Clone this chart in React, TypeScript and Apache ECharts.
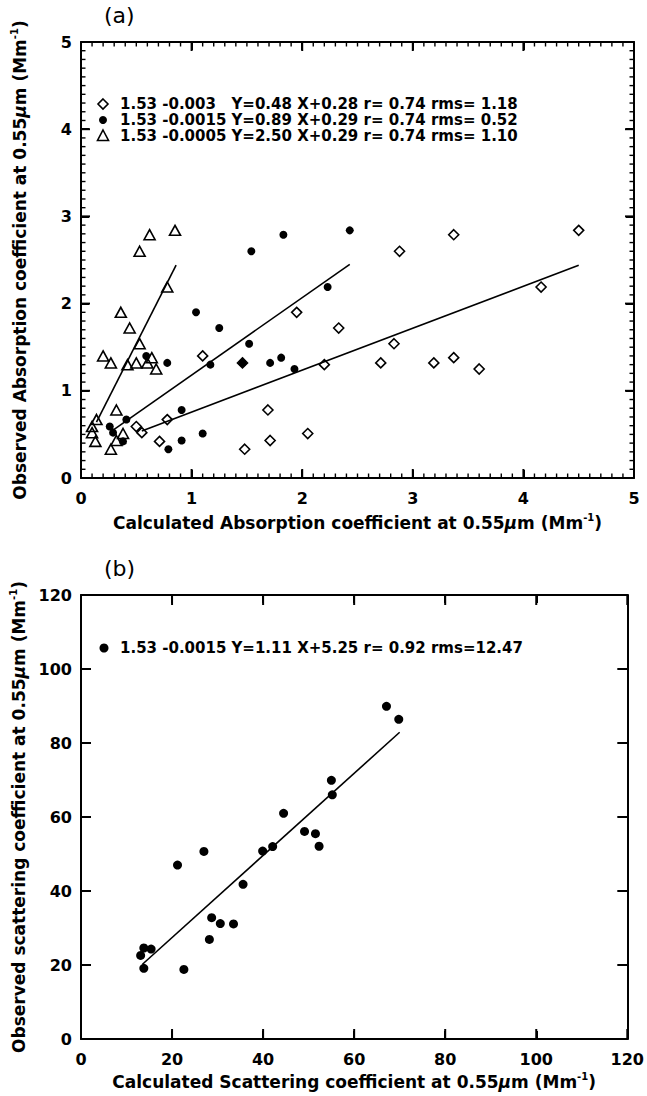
import React, { useEffect, useRef } from "react";
import * as echarts from "echarts";

// ---------- Panel (a): absorption ----------
// Observed absorption (same samples for the three imaginary-index cases)
const obsAbsorption = [2.84, 2.79, 2.60, 2.19, 1.90, 1.72, 1.54, 1.40, 1.38, 1.32, 1.30, 1.32, 1.32, 1.25, 0.78, 0.67, 0.59, 0.52, 0.42, 0.51, 0.43, 0.33];
// Calculated absorption, n = 1.53, k = -0.003 (open diamonds)
const calcAbsK003 = [4.50, 3.37, 2.88, 4.16, 1.95, 2.33, 2.83, 1.10, 3.37, 1.46, 2.20, 2.71, 3.19, 3.60, 1.69, 0.78, 0.50, 0.55, 0.71, 2.05, 1.71, 1.48];
// k = -0.0015 (filled circles)
const calcAbsK0015 = [2.43, 1.83, 1.54, 2.23, 1.04, 1.25, 1.52, 0.59, 1.81, 0.78, 1.17, 1.46, 1.71, 1.93, 0.91, 0.41, 0.26, 0.29, 0.38, 1.10, 0.91, 0.79];
// k = -0.0005 (open triangles)
const calcAbsK0005 = [0.85, 0.62, 0.53, 0.78, 0.36, 0.44, 0.53, 0.20, 0.64, 0.27, 0.42, 0.50, 0.60, 0.68, 0.32, 0.14, 0.10, 0.10, 0.13, 0.38, 0.32, 0.27];
// regression line end points
const fitK003 = [[0.55, 0.54], [4.50, 2.44]];
const fitK0015 = [[0.29, 0.55], [2.43, 2.45]];
const fitK0005 = [[0.14, 0.64], [0.86, 2.44]];
const legendA = [
  ["1.53 -0.003", "Y=0.48 X+0.28 r= 0.74 rms= 1.18"],
  ["1.53 -0.0015", "Y=0.89 X+0.29 r= 0.74 rms= 0.52"],
  ["1.53 -0.0005", "Y=2.50 X+0.29 r= 0.74 rms= 1.10"],
];
const majorTicksA = [0, 1, 2, 3, 4, 5];
const minorPerMajorA = 10;

// ---------- Panel (b): scattering ----------
const calcScattering = [67.1, 69.8, 55.0, 55.2, 44.5, 49.1, 51.5, 52.3, 39.9, 42.1, 27.0, 21.2, 35.6, 28.7, 30.6, 33.5, 28.2, 13.1, 13.8, 15.4, 13.8, 22.6];
const obsScattering = [89.9, 86.4, 69.9, 66.0, 61.0, 56.1, 55.5, 52.1, 50.8, 52.0, 50.7, 47.0, 41.8, 32.8, 31.2, 31.1, 26.9, 22.6, 24.6, 24.3, 19.1, 18.8];
const fitScattering = [[13.5, 20.2], [70.0, 82.9]];
const legendB = ["1.53 -0.0015", "Y=1.11 X+5.25 r= 0.92 rms=12.47"];
const majorTicksB = [0, 20, 40, 60, 80, 100, 120];
const minorPerMajorB = 1;

// ---------- layout ----------
const FONT = '"DejaVu Sans", Verdana, sans-serif';
const BLACK = "#000";
const GA = { left: 81, top: 42, width: 553, height: 436 };
const GB = { left: 81, top: 595, width: 553, height: 444 };

const richName = {
  t: { fontFamily: FONT, fontWeight: "bold", fontSize: 17, color: BLACK, lineHeight: 22 },
  i: { fontFamily: FONT, fontWeight: "bold", fontStyle: "italic", fontSize: 17, color: BLACK, lineHeight: 22 },
  s: { fontFamily: FONT, fontWeight: "bold", fontSize: 10, color: BLACK, lineHeight: 12, verticalAlign: "top" },
};

function axisPair(kind: "x" | "y", grid: number, min: number, max: number, interval: number, name: string, nameGap: number) {
  const common: any = {
    type: "value",
    gridIndex: grid,
    min,
    max,
    interval,
    axisLine: { show: true, onZero: false, lineStyle: { color: BLACK, width: 2 } },
    axisTick: { show: true, inside: true, length: 8, lineStyle: { color: BLACK, width: 2 } },
    minorTick: { show: false },
    splitLine: { show: false },
    minorSplitLine: { show: false },
  };
  const main: any = {
    ...common,
    position: kind === "x" ? "bottom" : "left",
    axisLabel: { show: true, color: BLACK, fontFamily: FONT, fontWeight: "bold", fontSize: 16, margin: kind === "x" ? 12 : 9 },
    name,
    nameLocation: "middle",
    nameGap,
    nameTextStyle: { rich: richName },
  };
  const mirror: any = {
    ...common,
    position: kind === "x" ? "top" : "right",
    axisLabel: { show: false },
  };
  return [main, mirror];
}

const pts = (xs: number[], ys: number[]) => xs.map((x, i) => [x, ys[i]]);

// Tick marks as scatter symbols placed on the frame through the axes' own scales
function tickValues(majors: number[], minorPer: number, wantMajor: boolean) {
  const out: number[] = [];
  majors.forEach((m, i) => {
    if (wantMajor) out.push(m);
    else if (minorPer > 1 && i < majors.length - 1) {
      const step = (majors[i + 1] - m) / minorPer;
      for (let k = 1; k < minorPer; k++) out.push(m + k * step);
    }
  });
  return out;
}

function tickSeries(axisIdx: number, majors: number[], minorPer: number, majorLen: number, minorLen: number) {
  const lo = majors[0];
  const hi = majors[majors.length - 1];
  const out: any[] = [];
  const kinds: [boolean, number, number][] = [[true, majorLen, 2], [false, minorLen, 1.4]];
  kinds.forEach(([isMajor, len, w]) => {
    if (len <= 0) return;
    const vals = tickValues(majors, minorPer, isMajor);
    if (!vals.length) return;
    const base = {
      type: "scatter", xAxisIndex: axisIdx, yAxisIndex: axisIdx, silent: true, clip: false, z: 20,
      symbol: "rect", itemStyle: { color: BLACK, opacity: 1 },
    };
    out.push({ ...base, data: vals.map((v) => [v, lo]), symbolSize: [w, len], symbolOffset: [0, -len / 2] });
    out.push({ ...base, data: vals.map((v) => [v, hi]), symbolSize: [w, len], symbolOffset: [0, len / 2] });
    out.push({ ...base, data: vals.map((v) => [lo, v]), symbolSize: [len, w], symbolOffset: [len / 2, 0] });
    out.push({ ...base, data: vals.map((v) => [hi, v]), symbolSize: [len, w], symbolOffset: [-len / 2, 0] });
  });
  return out;
}

const openStyle = { color: "rgba(0,0,0,0)", borderColor: BLACK, borderWidth: 1.6, opacity: 1 };

const legendRowsY = [104, 120, 136];
const legendSymX = 103;
const LEG_FONT = `bold 15px ${FONT}`;
const LEG_TEXT_X = 120;
const LEG_REST_X = 231.5;

const graphicEls: any[] = [
  { type: "text", left: 104, top: 4, style: { text: "(a)", font: `22px ${FONT}`, fill: BLACK } },
  { type: "text", left: 104, top: GB.top - 38, style: { text: "(b)", font: `22px ${FONT}`, fill: BLACK } },
  // legend symbols panel (a)
  { type: "polygon", shape: { points: [[legendSymX, legendRowsY[0] - 5], [legendSymX + 5, legendRowsY[0]], [legendSymX, legendRowsY[0] + 5], [legendSymX - 5, legendRowsY[0]]] }, style: { fill: "none", stroke: BLACK, lineWidth: 1.6 } },
  { type: "circle", shape: { cx: legendSymX, cy: legendRowsY[1], r: 4 }, style: { fill: BLACK } },
  { type: "polygon", shape: { points: [[legendSymX, legendRowsY[2] - 6], [legendSymX + 5.5, legendRowsY[2] + 4.5], [legendSymX - 5.5, legendRowsY[2] + 4.5]] }, style: { fill: "none", stroke: BLACK, lineWidth: 1.6 } },
  // legend symbol panel (b)
  { type: "circle", shape: { cx: 104, cy: 648, r: 4.5 }, style: { fill: BLACK } },
];
legendA.forEach((row, i) => {
  graphicEls.push({ type: "text", x: LEG_TEXT_X, y: legendRowsY[i], style: { text: row[0], font: LEG_FONT, fill: BLACK, verticalAlign: "middle" } });
  graphicEls.push({ type: "text", x: LEG_REST_X, y: legendRowsY[i], style: { text: row[1], font: LEG_FONT, fill: BLACK, verticalAlign: "middle" } });
});
graphicEls.push({ type: "text", x: LEG_TEXT_X, y: 648, style: { text: legendB[0], font: LEG_FONT, fill: BLACK, verticalAlign: "middle" } });
graphicEls.push({ type: "text", x: LEG_REST_X, y: 648, style: { text: legendB[1], font: LEG_FONT, fill: BLACK, verticalAlign: "middle" } });

const [xa, xa2] = axisPair("x", 0, 0, 5, 1, "{t|Calculated Absorption coefficient at 0.55}{i|μ}{t|m (Mm}{s|-1}{t|)}", 34);
const [ya, ya2] = axisPair("y", 0, 0, 5, 1, "{t|Observed Absorption coefficient at 0.55}{i|μ}{t|m (Mm}{s|-1}{t|)}", 50);
const [xb, xb2] = axisPair("x", 1, 0, 120, 20, "{t|Calculated Scattering coefficient at 0.55}{i|μ}{t|m (Mm}{s|-1}{t|)}", 32);
const [yb, yb2] = axisPair("y", 1, 0, 120, 20, "{t|Observed scattering coefficient at 0.55}{i|μ}{t|m (Mm}{s|-1}{t|)}", 50);

const option: any = {
  animation: false,
  backgroundColor: "#fff",
  grid: [
    { left: GA.left, top: GA.top, width: GA.width, height: GA.height },
    { left: GB.left, top: GB.top, width: GB.width, height: GB.height },
  ],
  xAxis: [xa, xb, xa2, xb2],
  yAxis: [ya, yb, ya2, yb2],
  graphic: graphicEls,
  series: [
    {
      type: "scatter", xAxisIndex: 0, yAxisIndex: 0, silent: true,
      data: pts(calcAbsK003, obsAbsorption), symbol: "diamond", symbolSize: [10, 10], itemStyle: openStyle,
    },
    {
      type: "scatter", xAxisIndex: 0, yAxisIndex: 0, silent: true,
      data: pts(calcAbsK0015, obsAbsorption), symbol: "circle", symbolSize: 8, itemStyle: { color: BLACK, opacity: 1 },
    },
    {
      type: "scatter", xAxisIndex: 0, yAxisIndex: 0, silent: true,
      data: pts(calcAbsK0005, obsAbsorption), symbol: "triangle", symbolSize: [11, 10], itemStyle: openStyle,
    },
    { type: "line", xAxisIndex: 0, yAxisIndex: 0, silent: true, data: fitK003, symbol: "none", lineStyle: { color: BLACK, width: 1.6 } },
    { type: "line", xAxisIndex: 0, yAxisIndex: 0, silent: true, data: fitK0015, symbol: "none", lineStyle: { color: BLACK, width: 1.6 } },
    { type: "line", xAxisIndex: 0, yAxisIndex: 0, silent: true, data: fitK0005, symbol: "none", lineStyle: { color: BLACK, width: 1.6 } },
    ...tickSeries(0, majorTicksA, minorPerMajorA, 9, 4.5),
    {
      type: "scatter", xAxisIndex: 1, yAxisIndex: 1, silent: true,
      data: pts(calcScattering, obsScattering), symbol: "circle", symbolSize: 9, itemStyle: { color: BLACK, opacity: 1 },
    },
    { type: "line", xAxisIndex: 1, yAxisIndex: 1, silent: true, data: fitScattering, symbol: "none", lineStyle: { color: BLACK, width: 1.6 } },
    ...tickSeries(1, majorTicksB, minorPerMajorB, 10, 0),
  ],
};

export default function App() {
  const ref = useRef<HTMLDivElement>(null);
  useEffect(() => {
    const chart = echarts.init(ref.current as HTMLDivElement, null, { renderer: "svg" });
    chart.setOption(option);
    return () => chart.dispose();
  }, []);
  return (
    <div
      ref={ref}
      style={{ position: "absolute", left: 0, top: 0, width: 647, height: 1096, background: "#fff" }}
    />
  );
}
